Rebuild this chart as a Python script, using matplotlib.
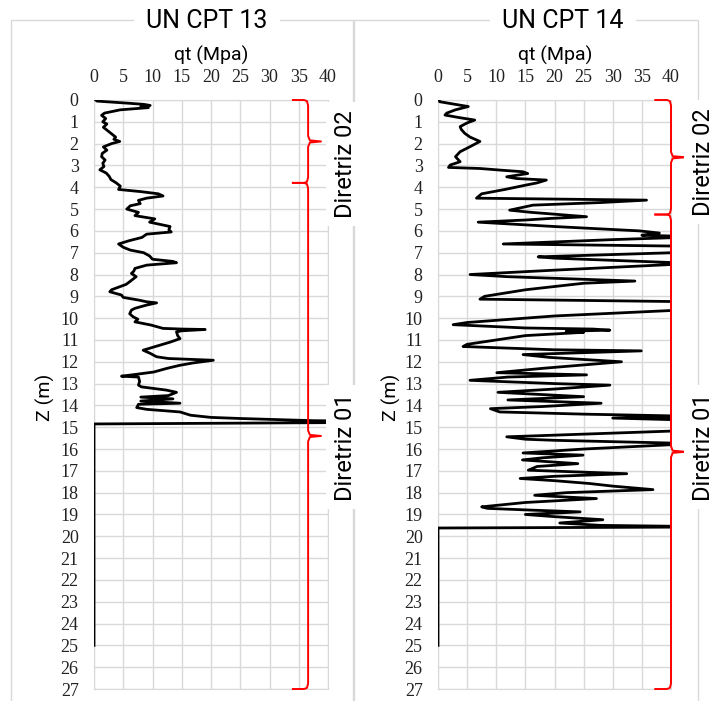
import matplotlib.pyplot as plt
from matplotlib.patches import Rectangle

# Perfis CPT (profundidade em m, qt em MPa)
z_cpt13 = [0.00, 0.05, 0.15, 0.20, 0.25, 0.30, 0.35, 0.45, 0.60, 0.70, 0.85, 1.00, 1.10, 1.25,
           1.40, 1.55, 1.70, 1.80, 1.90, 2.00, 2.15, 2.30, 2.45, 2.60, 2.75, 2.90, 3.05, 3.20,
           3.35, 3.50, 3.65, 3.80, 3.95, 4.10, 4.20, 4.30, 4.40, 4.50, 4.60, 4.75, 4.85, 5.00,
           5.15, 5.30, 5.45, 5.60, 5.80, 5.95, 6.05, 6.15, 6.30, 6.45, 6.60, 6.75, 6.88, 7.00,
           7.15, 7.30, 7.40, 7.46, 7.57, 7.72, 7.85, 7.95, 8.10, 8.33, 8.45, 8.56, 8.70, 8.79,
           8.94, 9.05, 9.17, 9.25, 9.30, 9.40, 9.55, 9.63, 9.80, 9.94, 10.05, 10.17, 10.25,
           10.32, 10.47, 10.50, 10.52, 10.58, 10.63, 10.80, 10.94, 11.10, 11.30, 11.47, 11.60,
           11.77, 11.85, 11.93, 12.05, 12.16, 12.30, 12.47, 12.60, 12.66, 12.70, 12.90, 13.07,
           13.15, 13.30, 13.40, 13.55, 13.62, 13.70, 13.80, 13.90, 13.95, 14.10, 14.18, 14.30,
           14.45, 14.55, 14.60, 14.70, 14.76, 14.85, 25.00]
qt_cpt13 = [0.3, 0.5, 6.0, 8.5, 9.6, 8.0, 9.3, 4.5, 1.8, 1.3, 2.0, 1.5, 2.2, 1.6,
            2.3, 3.0, 3.7, 3.4, 4.4, 3.0, 1.6, 2.2, 1.4, 1.3, 1.9, 1.5, 1.7, 1.0,
            2.1, 2.6, 2.9, 3.8, 4.5, 4.2, 8.0, 11.0, 11.8, 9.0, 7.6, 7.9, 6.2, 5.6,
            7.6, 7.0, 10.4, 9.5, 13.0, 12.8, 13.2, 9.0, 8.2, 6.0, 4.2, 5.0, 6.2, 8.5,
            9.5, 10.0, 13.5, 14.1, 9.0, 7.0, 6.8, 6.4, 7.2, 6.1, 5.5, 4.4, 3.0, 2.7,
            4.7, 5.0, 7.6, 9.0, 10.7, 9.0, 7.0, 6.4, 6.1, 6.7, 7.5, 7.0, 8.5,
            9.8, 11.8, 15.0, 19.0, 15.0, 14.1, 14.3, 14.7, 13.0, 10.5, 8.4, 9.5,
            10.7, 12.7, 20.4, 17.0, 14.7, 12.5, 10.2, 6.5, 4.7, 7.6, 7.8, 7.6,
            8.1, 12.4, 14.1, 12.7, 8.0, 13.5, 8.0, 14.7, 7.6, 7.3, 9.0, 14.7,
            16.5, 20.0, 25.0, 37.5, 60.0, 0.0, 0.0]

z_cpt14 = [0.00, 0.08, 0.20, 0.30, 0.45, 0.60, 0.69, 0.80, 0.92, 1.05, 1.22, 1.35, 1.53, 1.70,
           1.90, 2.00, 2.14, 2.37, 2.60, 2.83, 2.98, 3.09, 3.14, 3.22, 3.29, 3.37, 3.52, 3.60,
           3.67, 3.80, 3.90, 4.10, 4.30, 4.43, 4.50, 4.59, 4.70, 4.82, 4.95, 5.05, 5.15, 5.28,
           5.35, 5.43, 5.50, 5.60, 5.80, 6.00, 6.10, 6.20, 6.27, 6.40, 6.60, 6.72, 6.97, 7.19,
           7.25, 7.49, 7.80, 8.00, 8.10, 8.30, 8.40, 8.70, 9.00, 9.13, 9.25, 9.60, 9.90, 10.20,
           10.30, 10.45, 10.50, 10.55, 10.60, 10.65, 10.80, 11.20, 11.30, 11.45, 11.50, 11.67,
           11.80, 12.00, 12.30, 12.50, 12.60, 12.70, 12.85, 13.00, 13.07, 13.25, 13.40, 13.60,
           13.75, 13.90, 14.05, 14.15, 14.30, 14.40, 14.50, 14.58, 14.68, 15.14, 15.44, 15.55,
           15.60, 15.75, 16.00, 16.18, 16.28, 16.40, 16.50, 16.60, 16.67, 16.80, 16.97, 17.13,
           17.25, 17.35, 17.45, 17.58, 17.70, 17.86, 18.00, 18.12, 18.20, 18.27, 18.45, 18.65,
           18.72, 18.80, 18.88, 19.00, 19.10, 19.24, 19.39, 19.50, 19.57, 19.62, 25.00]
qt_cpt14 = [0.2, 0.3, 3.0, 5.2, 3.0, 1.5, 1.2, 3.5, 6.3, 5.0, 3.8, 4.0, 4.6, 5.5,
            7.2, 6.5, 5.5, 3.8, 3.0, 3.8, 2.1, 1.8, 7.2, 11.0, 14.6, 15.4, 11.8, 13.5,
            18.6, 17.0, 15.1, 11.5, 7.5, 6.9, 6.6, 35.8, 28.0, 16.3, 14.0, 12.3, 16.0, 22.1,
            25.5, 19.2, 15.1, 6.9, 20.0, 34.6, 38.0, 35.0, 45.0, 30.0, 11.2, 48.0, 44.0, 17.2,
            20.0, 44.0, 20.0, 5.5, 12.0, 33.8, 25.0, 15.0, 8.0, 7.2, 44.0, 44.0, 20.0, 5.0,
            2.6, 15.0, 26.6, 29.5, 22.0, 25.0, 15.0, 5.0, 4.3, 20.0, 34.9, 14.6,
            19.2, 31.5, 18.0, 10.1, 25.5, 12.0, 5.5, 20.0, 29.5, 20.0, 10.3, 25.0,
            12.0, 28.0, 18.0, 9.0, 10.6, 25.0, 44.0, 30.0, 44.0, 44.0, 11.8, 15.0,
            20.0, 44.0, 25.0, 14.6, 24.9, 18.0, 14.5, 20.0, 24.0, 17.0, 15.5, 32.4,
            20.0, 14.1, 20.0, 26.0, 30.0, 36.9, 22.0, 16.6, 22.0, 27.2, 15.0, 7.5,
            8.5, 16.0, 24.4, 15.0, 20.0, 28.3, 20.9, 28.0, 50.0, 0.0, 0.0]

titles = ["UN CPT 13", "UN CPT 14"]
x_ticks = [0, 5, 10, 15, 20, 25, 30, 35, 40]
z_ticks = list(range(0, 28))

# limites das diretrizes (m): topo, divisa, base
diretriz_cpt13 = [0.0, 3.8, 27.0]
diretriz_cpt14 = [0.0, 5.25, 27.0]
diretriz_labels = ["Diretriz 02", "Diretriz 01"]

W, H = 715, 701
SANS = "Roboto"
SERIF = "Liberation Serif"
GRAY = "#d9d9d9"


def fx(px):
    return px / W


def fy(py):
    return 1 - py / H


def draw_brace(ax, xv, xh, xt, z0, z1):
    # chave vermelha do Excel entre z0 e z1
    zm = (z0 + z1) / 2
    xs = [xh, xv - 0.7, xv - 0.2, xv, xv, xv + 0.3, xt, xv + 0.3, xv, xv, xv - 0.2, xv - 0.7, xh]
    zs = [z0, z0, z0 + 0.05, z0 + 0.25, zm - 0.25, zm - 0.05, zm, zm + 0.05, zm + 0.25,
          z1 - 0.25, z1 - 0.05, z1, z1]
    ax.plot(xs, zs, color="red", lw=1.4, clip_on=False, zorder=4)


fig = plt.figure(figsize=(7.15, 7.01), dpi=100)

# moldura de cada gráfico
for x0, x1 in [(11, 353), (354, 698)]:
    fig.patches.append(Rectangle((fx(x0), fy(705)), fx(x1 - x0), (705 - 20) / H,
                                 transform=fig.transFigure, fill=False,
                                 edgecolor=GRAY, lw=1, zorder=1))

ax1 = fig.add_axes([fx(94), fy(689), 234 / W, 589 / H])
ax2 = fig.add_axes([fx(438), fy(689), 233 / W, 589 / H])

# (eixo, qt, z, diretrizes, x título, x "qt", x "Z", chave, x rótulo, y rótulos)
panels = [(ax1, qt_cpt13, z_cpt13, diretriz_cpt13, 207, 211, 45, (36.6, 34.0, 38.8), 346, (164, 447)),
          (ax2, qt_cpt14, z_cpt14, diretriz_cpt14, 563, 555, 391, (40.0, 37.3, 42.5), 704, (162, 447))]

for i, (ax, qt, z, lims, tx, lx, zx, brace, dx, dys) in enumerate(panels):
    ax.set_xlim(0, 40)
    ax.set_ylim(27, 0)
    ax.set_xticks(x_ticks)
    ax.set_yticks(z_ticks)
    ax.xaxis.tick_top()
    ax.tick_params(axis="x", length=0, pad=10, labelsize=13, labelfontfamily=SERIF,
                   labelcolor="#222222")
    ax.tick_params(axis="y", length=0, pad=11, labelsize=13, labelfontfamily=SERIF,
                   labelcolor="#222222")
    ax.grid(color=GRAY, lw=1)
    ax.set_axisbelow(True)
    for sp in ax.spines.values():
        sp.set_color(GRAY)

    ax.plot(qt, z, color="black", lw=2, solid_joinstyle="round", zorder=3)

    xv, xh, xt = brace
    draw_brace(ax, xv, xh, xt, lims[0], lims[1])
    draw_brace(ax, xv, xh, xt, lims[1], lims[2])

    fig.text(fx(tx), fy(21), titles[i], family=SANS, fontsize=18, ha="center", va="center",
             bbox=dict(facecolor="white", edgecolor="none", boxstyle="square,pad=0.5"))
    fig.text(fx(lx), fy(55), "qt (Mpa)", family=SANS, fontsize=14, ha="center", va="center")
    fig.text(fx(zx), fy(397), "Z (m)", family=SANS, fontsize=14, ha="center", va="center",
             rotation=90)

    # rótulos das diretrizes
    for lab, py in zip(diretriz_labels, dys):
        fig.text(fx(dx), fy(py), lab, family=SANS, fontsize=17, ha="center", va="center",
                 rotation=90,
                 bbox=dict(facecolor="white", edgecolor="none", boxstyle="square,pad=0.35"))

fig.savefig("out.png", dpi=100)
